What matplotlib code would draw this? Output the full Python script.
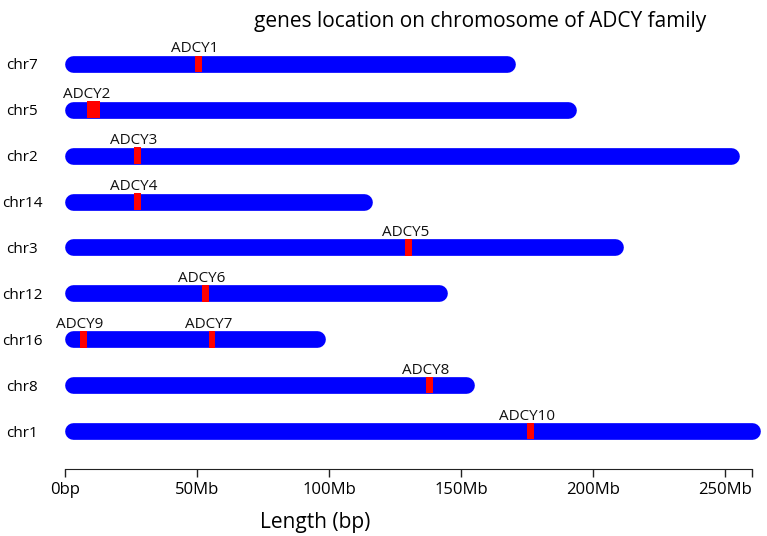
import matplotlib
matplotlib.use("Agg")
import matplotlib.pyplot as plt

plt.rcParams['font.family'] = ['Open Sans', 'DejaVu Sans']

# chromosome order top -> bottom
chromosomes = ["chr7", "chr5", "chr2", "chr14", "chr3", "chr12", "chr16", "chr8", "chr1"]
chrom_len_mb = [170.5, 193.8, 255.4, 116.5, 211.7, 145.0, 98.6, 155.0, 263.3]

gene_names = ["ADCY1", "ADCY2", "ADCY3", "ADCY4", "ADCY5", "ADCY6", "ADCY9", "ADCY7", "ADCY8", "ADCY10"]
gene_chrom = ["chr7", "chr5", "chr2", "chr14", "chr3", "chr12", "chr16", "chr16", "chr8", "chr1"]
gene_start_mb = [49.2, 8.2, 26.1, 26.1, 128.9, 51.9, 5.6, 54.5, 136.7, 175.2]
gene_end_mb = [51.8, 13.3, 28.8, 28.8, 131.5, 54.5, 8.3, 57.0, 139.4, 177.8]

xticks_mb = [0, 50, 100, 150, 200, 250]
xtick_labels = ["0bp", "50Mb", "100Mb", "150Mb", "200Mb", "250Mb"]
axis_max_mb = 260.3

W, H = 767, 536
fig = plt.figure(figsize=(W / 100, H / 100), dpi=100)
ax = fig.add_axes([65 / W, 1 - 469 / H, (752 - 65) / W, (469 - 40) / H])

n = len(chromosomes)
ypos = {c: n - 1 - i for i, c in enumerate(chromosomes)}
ax.set_xlim(0, axis_max_mb)
ax.set_ylim(-0.828, 8.52)

bar_px = 16.7
fig.canvas.draw()
px_per_x = (ax.transData.transform((100, 0))[0] - ax.transData.transform((0, 0))[0]) / 100
px_per_y = ax.transData.transform((0, 1))[1] - ax.transData.transform((0, 0))[1]
r = (bar_px / 2) / px_per_x
bar_h = bar_px / px_per_y
lw_pt = bar_px * 72 / 100

for c, L in zip(chromosomes, chrom_len_mb):
    y = ypos[c]
    ax.plot([r, L - r], [y, y], color="#0000ff", lw=lw_pt, solid_capstyle="round",
            clip_on=False, zorder=2)

for g, c, s, e in zip(gene_names, gene_chrom, gene_start_mb, gene_end_mb):
    y = ypos[c]
    ax.barh(y, e - s, left=s, height=bar_h, color="#ff0000", zorder=3, clip_on=False)
    ax.annotate(g, (s, y), xytext=(0, 8.2), textcoords="offset points",
                ha="center", va="baseline", fontsize=11, color="#111111")

ax.set_yticks([ypos[c] for c in chromosomes])
ax.set_yticklabels(chromosomes, fontsize=11, ha="center")
ax.tick_params(axis="y", length=0, pad=31)

ax.set_xticks(xticks_mb + [axis_max_mb])
ax.set_xticklabels(xtick_labels + [""], fontsize=12)
ax.tick_params(axis="x", length=6, width=1, pad=3, color="#222222")

for s in ["top", "right", "left"]:
    ax.spines[s].set_visible(False)
ax.spines["bottom"].set_color("#222222")

fig.text(315 / W, 1 - 528 / H, "Length (bp)", ha="center", va="baseline", fontsize=15)
fig.text(480 / W, 1 - 27 / H, "genes location on chromosome of ADCY family",
         ha="center", va="baseline", fontsize=15)

fig.savefig("out.png", dpi=100)
